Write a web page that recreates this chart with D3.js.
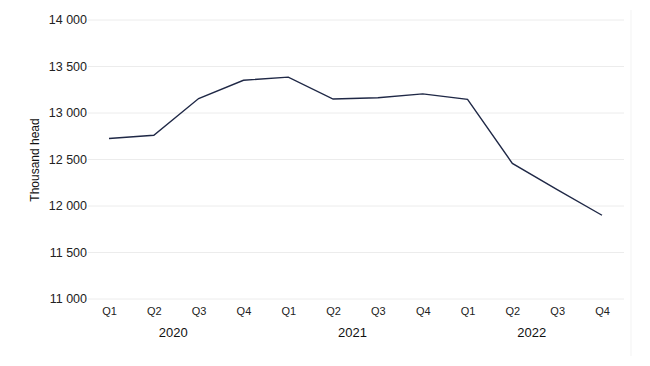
<!DOCTYPE html>
<html><head><meta charset="utf-8">
<script src="https://cdn.jsdelivr.net/npm/d3@7"></script>
<style>body{margin:0;background:#fff;} svg{display:block;font-family:"Liberation Sans",Arial,sans-serif;}</style>
</head><body>
<svg id="c" width="650" height="366"></svg>
<script>
const years = ["2020","2021","2022"];
const quarters = ["Q1","Q2","Q3","Q4"];
const categories = [
  "2020 Q1","2020 Q2","2020 Q3","2020 Q4",
  "2021 Q1","2021 Q2","2021 Q3","2021 Q4",
  "2022 Q1","2022 Q2","2022 Q3","2022 Q4"];
const values = [12720, 12755, 13150, 13347, 13380, 13145, 13158, 13200, 13142, 12452, 12170, 11895];
const yTicks = [11000, 11500, 12000, 12500, 13000, 13500, 14000];
const yTitle = "Thousand head";

(function(){
const svg = d3.select("#c");
const mLeft = 88, mRight = 624, mTop = 19.5, mBottom = 298.5;
const x = d3.scalePoint().domain(categories).range([109, 602]);
const y = d3.scaleLinear().domain([11000, 14000]).range([mBottom, mTop]);

// faint frame on right
svg.append("line").attr("x1",631).attr("x2",631).attr("y1",10).attr("y2",356)
  .attr("stroke","#f3f3f3").attr("stroke-width",1);

// gridlines + y labels
const yAxis = d3.axisLeft(y).tickValues(yTicks).tickSize(-(mRight-mLeft))
  .tickFormat(d => d3.format(",")(d).replace(",", " "));
const gy = svg.append("g").attr("transform",`translate(${mLeft},0)`).call(yAxis);
gy.select(".domain").remove();
gy.selectAll(".tick line").attr("stroke","#ececec").attr("stroke-width",1);
gy.selectAll(".tick text").attr("x",-1).attr("dy","0.35em")
  .attr("fill","#222").style("font-size","12.5px");

// x quarter labels
const xAxis = d3.axisBottom(x).tickSize(0).tickFormat(d => d.split(" ")[1]);
const gx = svg.append("g").attr("transform",`translate(0,${mBottom})`).call(xAxis);
gx.select(".domain").remove();
gx.selectAll(".tick text").attr("y",9).attr("dy","0.71em")
  .attr("fill","#222").style("font-size","11px");

// year labels
years.forEach(yr => {
  const c2 = x(yr+" Q2"), c3 = x(yr+" Q3");
  svg.append("text").attr("x",(c2+c3)/2 - 3).attr("y",337)
    .attr("text-anchor","middle").attr("fill","#111").style("font-size","13px").text(yr);
});

// y title
svg.append("text").attr("transform","translate(39,160) rotate(-90)")
  .attr("text-anchor","middle").attr("fill","#111").style("font-size","12px").text(yTitle);

// line
const line = d3.line().x((d,i)=>x(categories[i])).y(d=>y(d));
svg.append("path").datum(values).attr("d",line).attr("fill","none")
  .attr("stroke","#1f2846").attr("stroke-width",1.4).attr("stroke-linejoin","miter");
})();
</script>
</body></html>
